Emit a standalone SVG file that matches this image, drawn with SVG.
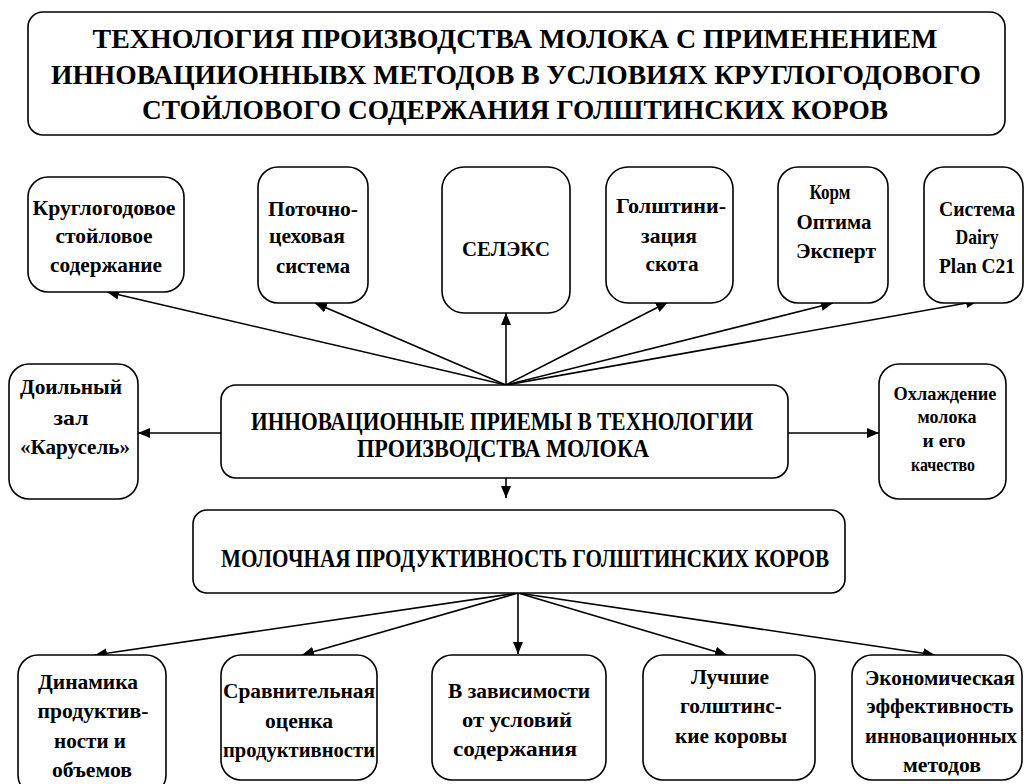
<svg xmlns="http://www.w3.org/2000/svg" width="1028" height="784" viewBox="0 0 1028 784">
<style>
.box{fill:#fff;stroke:#000;stroke-width:1.6}
text{font-family:'Liberation Serif','Times New Roman',Times,serif;font-weight:bold;fill:#000;text-anchor:middle}
.t{font-size:28px}
.m{font-size:25px}
.s{font-size:22px}
.xs{font-size:19px}
.c{stroke:#000;stroke-width:1.6;fill:none;marker-end:url(#ah)}
</style>
<defs>
<marker id="ah" markerUnits="userSpaceOnUse" markerWidth="14" markerHeight="10" refX="12" refY="5" orient="auto">
<path d="M0,0 L12,5 L0,10 z" fill="#000"/>
</marker>
</defs>
<rect width="1028" height="784" fill="#fff"/>
<g id="connectors">
<line class="c" x1="506" y1="385" x2="107" y2="292"/>
<line class="c" x1="506" y1="385" x2="315" y2="303"/>
<line class="c" x1="506" y1="385" x2="506" y2="313"/>
<line class="c" x1="506" y1="385" x2="668" y2="302"/>
<line class="c" x1="506" y1="385" x2="833" y2="303"/>
<line class="c" x1="506" y1="385" x2="978" y2="301"/>
<line class="c" x1="221" y1="433" x2="138" y2="433"/>
<line class="c" x1="788" y1="433" x2="879" y2="433"/>
<line class="c" x1="506" y1="478" x2="506" y2="498"/>
<line class="c" x1="518" y1="593" x2="95" y2="655"/>
<line class="c" x1="518" y1="593" x2="302" y2="655"/>
<line class="c" x1="518" y1="593" x2="518" y2="654"/>
<line class="c" x1="518" y1="593" x2="727" y2="655"/>
<line class="c" x1="518" y1="593" x2="935" y2="655"/>
</g>
<g id="title">
<rect class="box" x="28" y="12" width="977" height="123" rx="15"/>
<text class="t" x="515" y="48" textLength="845" lengthAdjust="spacingAndGlyphs">ТЕХНОЛОГИЯ ПРОИЗВОДСТВА МОЛОКА  С ПРИМЕНЕНИЕМ</text>
<text class="t" x="516" y="84" textLength="930" lengthAdjust="spacingAndGlyphs">ИННОВАЦИИОННЫВХ МЕТОДОВ В УСЛОВИЯХ КРУГЛОГОДОВОГО</text>
<text class="t" x="515" y="119" textLength="746" lengthAdjust="spacingAndGlyphs">СТОЙЛОВОГО  СОДЕРЖАНИЯ ГОЛШТИНСКИХ КОРОВ</text>
</g>
<g id="n-kruglogodovoe">
<rect class="box" x="28" y="177" width="156" height="115" rx="20"/>
<text class="s" x="104" y="215" textLength="143" lengthAdjust="spacingAndGlyphs">Круглогодовое</text>
<text class="s" x="104" y="243" textLength="97" lengthAdjust="spacingAndGlyphs">стойловое</text>
<text class="s" x="106" y="272" textLength="112" lengthAdjust="spacingAndGlyphs">содержание</text>
</g>
<g id="n-potochno">
<rect class="box" x="258" y="167" width="110" height="136" rx="20"/>
<text class="s" x="313" y="216" textLength="90" lengthAdjust="spacingAndGlyphs">Поточно-</text>
<text class="s" x="307" y="243" textLength="76" lengthAdjust="spacingAndGlyphs">цеховая</text>
<text class="s" x="313" y="273" textLength="74" lengthAdjust="spacingAndGlyphs">система</text>
</g>
<g id="n-seleks">
<rect class="box" x="442" y="167" width="128" height="146" rx="22"/>
<text class="s" x="506" y="256" textLength="88" lengthAdjust="spacingAndGlyphs">СЕЛЭКС</text>
</g>
<g id="n-golshtinizatsiya">
<rect class="box" x="606" y="167" width="127" height="136" rx="22"/>
<text class="s" x="671" y="213" textLength="110" lengthAdjust="spacingAndGlyphs">Голштини-</text>
<text class="s" x="669" y="243" textLength="56" lengthAdjust="spacingAndGlyphs">зация</text>
<text class="s" x="672" y="271" textLength="53" lengthAdjust="spacingAndGlyphs">скота</text>
</g>
<g id="n-korm">
<rect class="box" x="778" y="167" width="110" height="136" rx="20"/>
<text class="s" x="830" y="199" textLength="41" lengthAdjust="spacingAndGlyphs">Корм</text>
<text class="s" x="834" y="229" textLength="75" lengthAdjust="spacingAndGlyphs">Оптима</text>
<text class="s" x="836" y="258" textLength="80" lengthAdjust="spacingAndGlyphs">Эксперт</text>
</g>
<g id="n-dairy">
<rect class="box" x="924" y="167" width="99" height="136" rx="20"/>
<text class="s" x="977" y="216" textLength="76" lengthAdjust="spacingAndGlyphs">Система</text>
<text class="s" x="977" y="244" textLength="43" lengthAdjust="spacingAndGlyphs">Dairy</text>
<text class="s" x="977" y="273" textLength="76" lengthAdjust="spacingAndGlyphs">Plan C21</text>
</g>
<g id="n-doilny">
<rect class="box" x="9" y="364" width="129" height="135" rx="20"/>
<text class="s" x="71" y="394" textLength="102" lengthAdjust="spacingAndGlyphs">Доильный</text>
<text class="s" x="71" y="425" textLength="35" lengthAdjust="spacingAndGlyphs">зал</text>
<text class="s" x="75" y="454" textLength="110" lengthAdjust="spacingAndGlyphs">«Карусель»</text>
</g>
<g id="n-innovatsii">
<rect class="box" x="221" y="385" width="567" height="93" rx="15"/>
<text class="m" x="502" y="430" textLength="502" lengthAdjust="spacingAndGlyphs">ИННОВАЦИОННЫЕ ПРИЕМЫ В ТЕХНОЛОГИИ</text>
<text class="m" x="503" y="457" textLength="292" lengthAdjust="spacingAndGlyphs">ПРОИЗВОДСТВА МОЛОКА</text>
</g>
<g id="n-okhlazhdenie">
<rect class="box" x="879" y="364" width="127" height="135" rx="20"/>
<text class="xs" x="945" y="400" textLength="103" lengthAdjust="spacingAndGlyphs">Охлаждение</text>
<text class="xs" x="947" y="423" textLength="59" lengthAdjust="spacingAndGlyphs">молока</text>
<text class="xs" x="944" y="447" textLength="43" lengthAdjust="spacingAndGlyphs">и его</text>
<text class="xs" x="943" y="471" textLength="64" lengthAdjust="spacingAndGlyphs">качество</text>
</g>
<g id="n-molochnaya">
<rect class="box" x="193" y="510" width="652" height="83" rx="14"/>
<text class="m" x="525" y="567" textLength="608" lengthAdjust="spacingAndGlyphs">МОЛОЧНАЯ ПРОДУКТИВНОСТЬ ГОЛШТИНСКИХ КОРОВ</text>
</g>
<g id="n-dinamika">
<rect class="box" x="18" y="655" width="148" height="140" rx="20"/>
<text class="s" x="88" y="689" textLength="100" lengthAdjust="spacingAndGlyphs">Динамика</text>
<text class="s" x="93" y="718" textLength="111" lengthAdjust="spacingAndGlyphs">продуктив-</text>
<text class="s" x="90" y="748" textLength="72" lengthAdjust="spacingAndGlyphs">ности и</text>
<text class="s" x="92" y="777" textLength="80" lengthAdjust="spacingAndGlyphs">объемов</text>
</g>
<g id="n-sravnitelnaya">
<rect class="box" x="221" y="655" width="156" height="125" rx="20"/>
<text class="s" x="299" y="698" textLength="152" lengthAdjust="spacingAndGlyphs">Сравнительная</text>
<text class="s" x="299" y="728" textLength="68" lengthAdjust="spacingAndGlyphs">оценка</text>
<text class="s" x="299" y="757" textLength="152" lengthAdjust="spacingAndGlyphs">продуктивности</text>
</g>
<g id="n-zavisimosti">
<rect class="box" x="432" y="655" width="174" height="125" rx="20"/>
<text class="s" x="519" y="698" textLength="142" lengthAdjust="spacingAndGlyphs">В зависимости</text>
<text class="s" x="517" y="727" textLength="110" lengthAdjust="spacingAndGlyphs">от условий</text>
<text class="s" x="515" y="756" textLength="124" lengthAdjust="spacingAndGlyphs">содержания</text>
</g>
<g id="n-luchshie">
<rect class="box" x="643" y="655" width="172" height="125" rx="20"/>
<text class="s" x="730" y="684" textLength="78" lengthAdjust="spacingAndGlyphs">Лучшие</text>
<text class="s" x="731" y="713" textLength="102" lengthAdjust="spacingAndGlyphs">голштинс-</text>
<text class="s" x="731" y="743" textLength="112" lengthAdjust="spacingAndGlyphs">кие коровы</text>
</g>
<g id="n-ekonomicheskaya">
<rect class="box" x="852" y="655" width="170" height="125" rx="20"/>
<text class="s" x="940" y="685" textLength="150" lengthAdjust="spacingAndGlyphs">Экономическая</text>
<text class="s" x="940" y="713" textLength="147" lengthAdjust="spacingAndGlyphs">эффективность</text>
<text class="s" x="941" y="743" textLength="152" lengthAdjust="spacingAndGlyphs">инновационных</text>
<text class="s" x="942" y="772" textLength="78" lengthAdjust="spacingAndGlyphs">методов</text>
</g>
</svg>
